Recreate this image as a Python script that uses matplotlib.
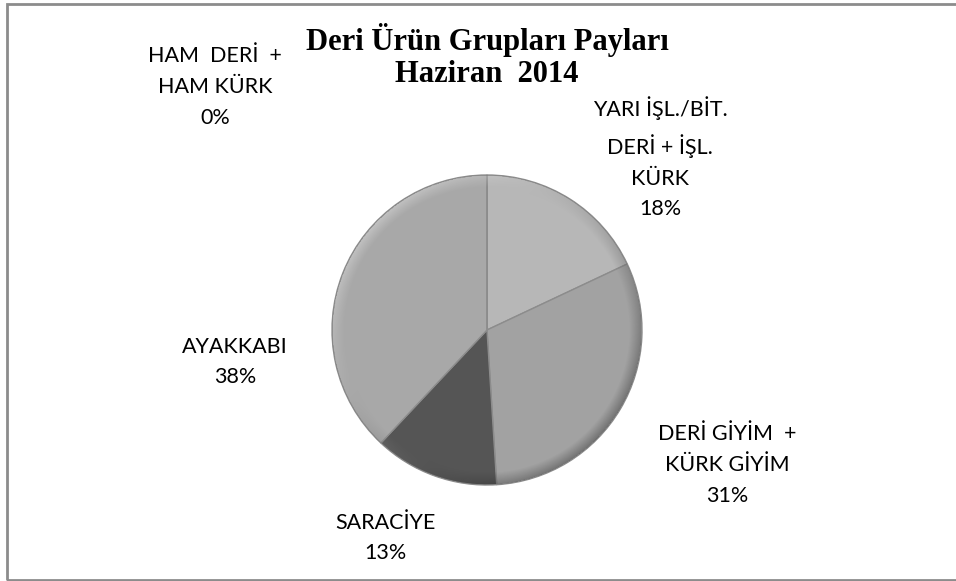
import numpy as np
import matplotlib
matplotlib.use("Agg")
import matplotlib.pyplot as plt
from matplotlib.patches import Rectangle, Circle

# data
categories = ["YARI İŞL./BİT.\nDERİ + İŞL.\nKÜRK", "DERİ GİYİM  +\nKÜRK GİYİM", "SARACİYE",
              "AYAKKABI", "HAM  DERİ  +\nHAM KÜRK"]
shares = [18, 31, 13, 38, 0]
colors = ["#b7b7b7", "#a2a2a2", "#555555", "#a8a8a8", "#9a9a9a"]
title_lines = ["Deri Ürün Grupları Payları", "Haziran  2014"]

W, H = 956, 581
fig = plt.figure(figsize=(W / 100, H / 100), dpi=100)
ax = fig.add_axes([0, 0, 1, 1])

cx, cy, R = 487, H - 330, 155
wedges, _ = ax.pie(shares, colors=colors, startangle=90, counterclock=False,
                   center=(cx, cy), radius=R, frame=True,
                   wedgeprops=dict(edgecolor="#8c8c8c", linewidth=1.0))
ax.set_xlim(0, W)
ax.set_ylim(0, H)
ax.set_aspect("equal")
ax.axis("off")

# soft bevel shading near the rim
n = 400
yy, xx = np.mgrid[-1:1:n * 1j, -1:1:n * 1j]
rr = np.hypot(xx, yy)
shade = np.zeros((n, n, 4))
g = np.clip(0.5 - 0.5 * (xx - yy) / 1.41, 0, 1)
shade[..., 0] = g
shade[..., 1] = g
shade[..., 2] = g
shade[..., 3] = np.clip((rr - 0.92) / 0.08, 0, 1) * 0.3
shade[rr > 1] = 0
img = ax.imshow(shade, extent=(cx - R, cx + R, cy - R, cy + R), origin="lower", zorder=3)
img.set_clip_path(Circle((cx, cy), R, transform=ax.transData))

# labels
label_pos = [(660, H - 158), (727, H - 465), (385, H - 538), (235, H - 362), (215, H - 87)]
for name, v, (x, y) in zip(categories, shares, label_pos):
    ax.text(x, y, f"{name}\n{v}%", ha="center", va="center", fontsize=15.5,
            family="Lato", color="black", linespacing=1.68, zorder=5)

for line, y in zip(title_lines, [40, 75]):
    ax.text(487, H - y, line, ha="center", va="center", fontsize=22, fontweight="bold",
            family="Liberation Serif")

fig.patches.append(Rectangle((7, 1), W + 5, 576, transform=None, fill=False,
                             edgecolor="#8c8c8c", linewidth=2))

fig.savefig("out.png", dpi=100)
